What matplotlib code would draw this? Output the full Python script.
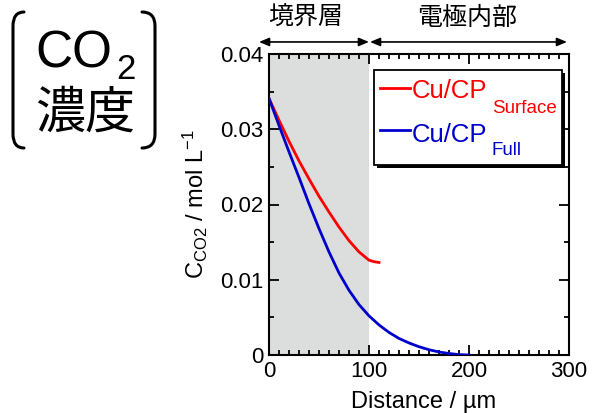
import matplotlib
matplotlib.use("Agg")
import matplotlib.pyplot as plt
from matplotlib.path import Path
from matplotlib.patches import PathPatch, Rectangle
from matplotlib.lines import Line2D
import numpy as np

plt.rcParams['font.family'] = ['Liberation Sans', 'Noto Sans CJK JP', 'DejaVu Sans']
plt.rcParams['mathtext.fontset'] = 'custom'
plt.rcParams['mathtext.rm'] = 'Liberation Sans'
plt.rcParams['mathtext.it'] = 'Liberation Sans:italic'
plt.rcParams['mathtext.bf'] = 'Liberation Sans:bold'

# ---- data ----
x_full = [0, 10, 20, 30, 40, 50, 60, 70, 80, 90, 100, 110, 120, 130, 140, 150, 160, 170, 180, 190, 200]
c_full = [0.0341, 0.0305, 0.0270, 0.0236, 0.0201, 0.0168, 0.0137, 0.0109, 0.0086, 0.0067, 0.0052,
          0.0040, 0.0030, 0.0022, 0.0016, 0.0011, 0.0007, 0.0004, 0.0002, 0.00005, 0.0]
x_surf = [0, 10, 20, 30, 40, 50, 60, 70, 80, 90, 100, 105, 110]
c_surf = [0.0341, 0.0312, 0.0284, 0.0258, 0.0234, 0.0211, 0.0190, 0.0170, 0.0152, 0.0137, 0.0126, 0.0124, 0.0123]
series_main = ['Cu/CP', 'Cu/CP']
series_sub = ['Surface', 'Full']
series_colors = ['#ff0000', '#0000cc']
boundary = 100
xticks = [0, 100, 200, 300]
yticks = [0, 0.01, 0.02, 0.03, 0.04]
ytick_labels = ['0', '0.01', '0.02', '0.03', '0.04']
region_labels = ['境界層', '電極内部']

W, H = 592, 413
fig = plt.figure(figsize=(W / 100, H / 100), dpi=100)
ax = fig.add_axes([269 / W, (H - 355) / H, 300 / W, 301 / H])

def px(x, y):
    return (x / W, 1 - y / H)

ax.axvspan(0, boundary, color='#dcdddd', lw=0, zorder=0)
ax.plot(x_surf, c_surf, color=series_colors[0], lw=2, zorder=3)
ax.plot(x_full, c_full, color=series_colors[1], lw=2, zorder=3)

ax.set_xlim(0, 300)
ax.set_ylim(0, 0.04)
ax.set_xticks(xticks)
ax.set_xticklabels([str(t) for t in xticks])
ax.set_yticks(yticks)
ax.set_yticklabels(ytick_labels)
ax.set_xticks(np.arange(0, 301, 10), minor=True)
ax.set_yticks(np.arange(0, 0.0401, 0.005), minor=True)
ax.tick_params(which='both', direction='in', top=True, right=True, width=1.3, labelsize=16, pad=4)
ax.tick_params(which='major', length=7)
ax.tick_params(which='minor', length=3.5)
for s in ax.spines.values():
    s.set_linewidth(1.5)

fig.text(424 / W, 1 - 408 / H, 'Distance / µm', fontsize=17, ha='center', va='baseline')
fig.text(195 / W, 1 - 204 / H, '$\\mathrm{C}_{\\mathrm{CO2}}$ / mol L$^{-1}$', fontsize=17,
         rotation=90, ha='center', va='center')

# legend box drawn by hand (positions in pixels)
fig.add_artist(Rectangle(px(377, 168), 188 / W, 95 / H, transform=fig.transFigure,
                         facecolor='black', edgecolor='black', lw=0, zorder=5))
fig.add_artist(Rectangle(px(374, 165), 188 / W, 95 / H, transform=fig.transFigure,
                         facecolor='white', edgecolor='black', lw=1.3, zorder=6))
rows_y = [(88, 98, 113), (130, 142, 155)]
for (ly, by, sy), main, sub, col in zip(rows_y, series_main, series_sub, series_colors):
    fig.add_artist(Line2D([380 / W, 410 / W], [1 - ly / H, 1 - ly / H], color=col, lw=2,
                          transform=fig.transFigure, zorder=7))
    fig.text(412 / W, 1 - by / H, main, color=col, fontsize=18.5, ha='left', va='baseline', zorder=7)
    fig.text(492 / W, 1 - sy / H, sub, color=col, fontsize=13.5, ha='left', va='baseline', zorder=7)

# region arrows and labels
arrow_kw = dict(arrowstyle='<|-|>,head_length=0.6,head_width=0.25', color='black', lw=1.2,
                shrinkA=0, shrinkB=0)
ax.annotate('', xy=(-10, 1.04), xytext=(boundary, 1.04), xycoords=('data', 'axes fraction'),
            textcoords=('data', 'axes fraction'), arrowprops=arrow_kw, annotation_clip=False)
ax.annotate('', xy=(boundary + 1, 1.04), xytext=(298, 1.04), xycoords=('data', 'axes fraction'),
            textcoords=('data', 'axes fraction'), arrowprops=arrow_kw, annotation_clip=False)
fig.text(306 / W, 1 - 18 / H, region_labels[0], ha='center', va='center',
         fontsize=18, family=['Noto Sans CJK JP'])
fig.text(467 / W, 1 - 18 / H, region_labels[1], ha='center', va='center',
         fontsize=18, family=['Noto Sans CJK JP'])

# big bracketed label at top-left
def bracket(xt, xv, y0, y1):
    r = 14
    verts = [px(xt, y0), px(xv, y0), px(xv, y0 + r), px(xv, y1 - r), px(xv, y1), px(xt, y1)]
    codes = [Path.MOVETO, Path.CURVE3, Path.CURVE3, Path.LINETO, Path.CURVE3, Path.CURVE3]
    fig.add_artist(PathPatch(Path(verts, codes), fill=False, lw=2.2, color='black',
                             transform=fig.transFigure, capstyle='round'))

bracket(24, 13, 12, 148)
bracket(142, 155, 12, 148)
fig.text(35 / W, 1 - 68 / H, 'CO', fontsize=37, ha='left', va='baseline', family=['Liberation Sans'])
fig.text(116 / W, 1 - 79 / H, '2', fontsize=25, ha='left', va='baseline', family=['Liberation Sans'])
fig.text(85 / W, 1 - 128 / H, '濃度', fontsize=36, ha='center', va='baseline', family=['Noto Sans CJK JP'])

fig.savefig('out.png', dpi=100)
